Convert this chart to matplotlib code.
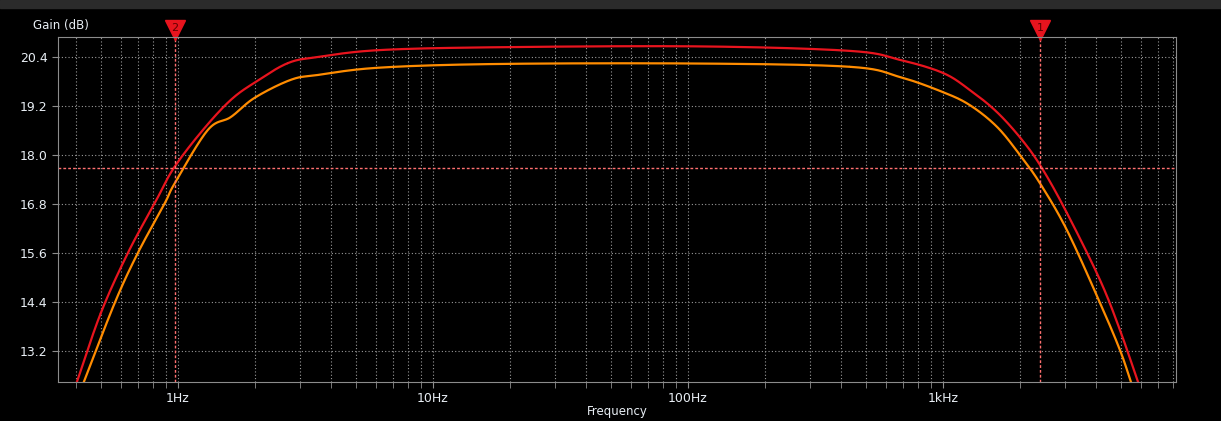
import matplotlib
matplotlib.use("Agg")
import matplotlib.pyplot as plt
import numpy as np
from matplotlib.ticker import FixedLocator, LogLocator, NullFormatter

red_f = [0.402, 0.499, 0.637, 0.812, 0.964, 1.253, 1.614, 2.02, 2.70, 3.54, 6.2, 18.3, 111, 432, 678, 1000, 1276, 1629, 2042, 2444, 3063, 4128, 4946, 5821]
red_db = [12.44, 14.13, 15.6, 16.82, 17.68, 18.61, 19.35, 19.79, 20.25, 20.40, 20.57, 20.64, 20.66, 20.55, 20.33, 20.01, 19.59, 19.05, 18.37, 17.68, 16.58, 14.94, 13.71, 12.44]
org_f = [0.428, 0.566, 0.697, 0.889, 0.973, 1.31, 1.614, 2.0, 2.77, 3.54, 6.2, 18.3, 111, 432, 678, 1000, 1276, 1629, 2004, 2400, 3063, 4128, 4946, 5460]
org_db = [12.44, 14.38, 15.6, 16.82, 17.31, 18.61, 18.93, 19.4, 19.84, 19.96, 20.14, 20.23, 20.24, 20.16, 19.91, 19.54, 19.22, 18.69, 18.0, 17.31, 16.16, 14.38, 13.22, 12.44]
marker_freqs = [2400, 0.973]
marker_labels = ["1", "2"]
hline_db = 17.68
yticks = [13.2, 14.4, 15.6, 16.8, 18.0, 19.2, 20.4]
xticks = [1, 10, 100, 1000]
xlabels = ["1Hz", "10Hz", "100Hz", "1kHz"]

def smooth(f, d):
    lf = np.log10(f)
    pts = np.array(list(zip(lf, d)))
    out = []
    P = np.vstack([2*pts[0]-pts[1], pts, 2*pts[-1]-pts[-2]])
    for i in range(1, len(P) - 2):
        p0, p1, p2, p3 = P[i-1], P[i], P[i+1], P[i+2]
        t = np.linspace(0, 1, 30)[:, None]
        c = 0.5 * ((2*p1) + (-p0+p2)*t + (2*p0-5*p1+4*p2-p3)*t**2 + (-p0+3*p1-3*p2+p3)*t**3)
        out.append(c)
    c = np.vstack(out)
    return 10**c[:, 0], c[:, 1]

fig = plt.figure(figsize=(12.21, 4.21), dpi=100, facecolor="black")
ax = fig.add_axes([58/1221, 1-382/421, (1176-58)/1221, (382-37)/421])
ax.set_facecolor("black")
ax.set_xscale("log")
ax.set_xlim(0.339, 8200)
ax.set_ylim(12.44, 20.89)
ax.xaxis.set_major_locator(FixedLocator(xticks))
ax.set_xticklabels(xlabels)
ax.xaxis.set_minor_locator(LogLocator(base=10, subs=np.arange(2, 10)))
ax.xaxis.set_minor_formatter(NullFormatter())
ax.set_yticks(yticks)
ax.set_yticklabels([f"{v:.1f}" for v in yticks])
ax.grid(True, which="both", axis="x", color="#9a9a9a", linestyle=(0, (1, 2)), linewidth=0.8)
ax.grid(True, which="major", axis="y", color="#9a9a9a", linestyle=(0, (1, 2)), linewidth=0.8)
for s in ax.spines.values():
    s.set_color("#8c8c8c")
ax.tick_params(which="both", colors="#8c8c8c", labelcolor="#e8eef4", labelsize=9, length=4)

x, y = smooth(red_f, red_db)
ax.plot(x, y, color="#e8141e", lw=1.6)
x, y = smooth(org_f, org_db)
ax.plot(x, y, color="#ff8c00", lw=1.6)

ax.axhline(hline_db, color="#ff7070", lw=1, linestyle=(0, (2, 1.5)))
for f, lab in zip(marker_freqs, marker_labels):
    ax.axvline(f, color="#ff7070", lw=1, linestyle=(0, (2, 1.5)))
    ax.plot([f], [21.05], marker="v", markersize=14, color="#e8141e", clip_on=False)
    ax.text(f, 21.12, lab, ha="center", va="center", fontsize=8, color="#600000")

fig.text(33/1221, 1-26/421, "Gain (dB)", color="#e8eef4", fontsize=8.5, va="center")
fig.text(617/1221, 1-411/421, "Frequency", color="#e8eef4", fontsize=8.5, ha="center", va="center")
fig.patches.append(plt.Rectangle((0, 1-8/421), 1, 8/421, transform=fig.transFigure, color="#2b2b2b"))
fig.savefig("out.png", dpi=100, facecolor="black")
